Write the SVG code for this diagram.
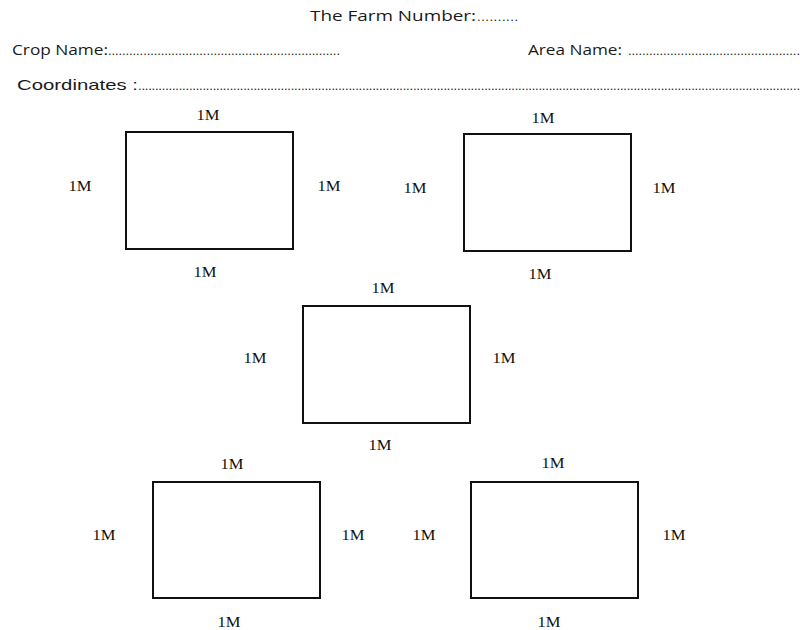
<svg xmlns="http://www.w3.org/2000/svg" width="800" height="630" viewBox="0 0 800 630">
<style>
.hd{font-family:"Open Sans","DejaVu Sans",sans-serif;font-size:14px;fill:#1a1a1a}
.hc{font-family:"Liberation Sans",Arial,sans-serif;font-size:15px;fill:#1a1a1a}
.dots{font-family:"Liberation Sans",Arial,sans-serif;font-size:13px;fill:#1a1a1a}
.box{fill:#fff;stroke:#111;stroke-width:2}
.m{font-family:"Liberation Serif","Times New Roman",serif;font-size:15.5px;fill:#111;text-anchor:middle}
</style>
<rect width="800" height="630" fill="#fff"/>
<g id="header">
<text class="hd" x="310" y="21" textLength="166" lengthAdjust="spacingAndGlyphs">The Farm Number:</text>
<text class="dots" x="477" y="21" textLength="41" lengthAdjust="spacing">..........</text>
<text class="hd" x="12" y="55" textLength="96" lengthAdjust="spacingAndGlyphs">Crop Name:</text>
<text class="dots" x="108" y="55" textLength="232" lengthAdjust="spacing">..................................................................</text>
<text class="hd" x="528" y="55" textLength="94" lengthAdjust="spacingAndGlyphs">Area Name:</text>
<text class="dots" x="628" y="55" textLength="172" lengthAdjust="spacing">.................................................</text>
<text class="hc" x="17" y="90" textLength="121" lengthAdjust="spacingAndGlyphs">Coordinates :</text>
<text class="dots" x="138" y="90" textLength="662" lengthAdjust="spacing">...................................................................................................................................................................................................</text>
</g>
<g id="connectors"/>
<g id="plot1">
<rect class="box" x="126" y="132" width="167" height="117"/>
<text class="m" x="208" y="120" textLength="23" lengthAdjust="spacingAndGlyphs">1M</text>
<text class="m" x="80" y="191" textLength="23" lengthAdjust="spacingAndGlyphs">1M</text>
<text class="m" x="329" y="191" textLength="23" lengthAdjust="spacingAndGlyphs">1M</text>
<text class="m" x="205" y="277" textLength="23" lengthAdjust="spacingAndGlyphs">1M</text>
</g>
<g id="plot2">
<rect class="box" x="464" y="134" width="167" height="117"/>
<text class="m" x="543" y="123" textLength="23" lengthAdjust="spacingAndGlyphs">1M</text>
<text class="m" x="415" y="193" textLength="23" lengthAdjust="spacingAndGlyphs">1M</text>
<text class="m" x="664" y="193" textLength="23" lengthAdjust="spacingAndGlyphs">1M</text>
<text class="m" x="540" y="279" textLength="23" lengthAdjust="spacingAndGlyphs">1M</text>
</g>
<g id="plot3">
<rect class="box" x="303" y="306" width="167" height="117"/>
<text class="m" x="383" y="293" textLength="23" lengthAdjust="spacingAndGlyphs">1M</text>
<text class="m" x="255" y="363" textLength="23" lengthAdjust="spacingAndGlyphs">1M</text>
<text class="m" x="504" y="363" textLength="23" lengthAdjust="spacingAndGlyphs">1M</text>
<text class="m" x="380" y="450" textLength="23" lengthAdjust="spacingAndGlyphs">1M</text>
</g>
<g id="plot4">
<rect class="box" x="153" y="482" width="167" height="116"/>
<text class="m" x="232" y="469" textLength="23" lengthAdjust="spacingAndGlyphs">1M</text>
<text class="m" x="104" y="540" textLength="23" lengthAdjust="spacingAndGlyphs">1M</text>
<text class="m" x="353" y="540" textLength="23" lengthAdjust="spacingAndGlyphs">1M</text>
<text class="m" x="229" y="627" textLength="23" lengthAdjust="spacingAndGlyphs">1M</text>
</g>
<g id="plot5">
<rect class="box" x="471" y="482" width="167" height="116"/>
<text class="m" x="553" y="468" textLength="23" lengthAdjust="spacingAndGlyphs">1M</text>
<text class="m" x="424" y="540" textLength="23" lengthAdjust="spacingAndGlyphs">1M</text>
<text class="m" x="674" y="540" textLength="23" lengthAdjust="spacingAndGlyphs">1M</text>
<text class="m" x="549" y="627" textLength="23" lengthAdjust="spacingAndGlyphs">1M</text>
</g>
</svg>
